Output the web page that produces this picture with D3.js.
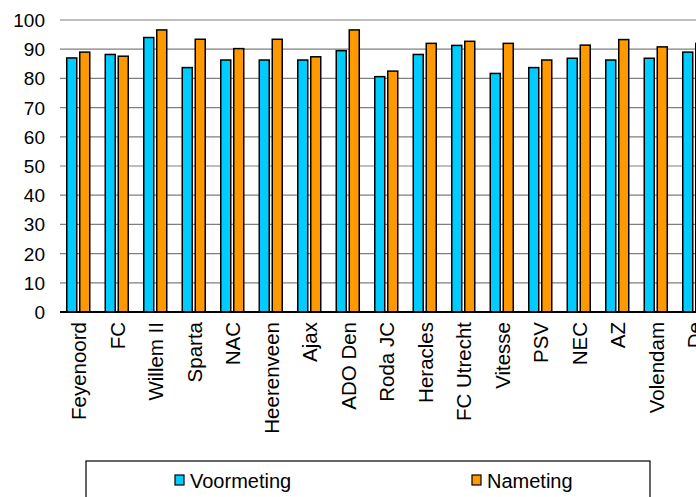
<!DOCTYPE html>
<html>
<head>
<meta charset="utf-8">
<script src="https://cdn.jsdelivr.net/npm/d3@7"></script>
<style>
body { margin: 0; background: #fff; }
text { font-family: "Liberation Sans", Arial, sans-serif; fill: #000; }
</style>
</head>
<body>
<script>
const width = 696
const height = 497

const clubs = ["Feyenoord", "FC", "Willem II", "Sparta", "NAC", "Heerenveen", "Ajax", "ADO Den",
         "Roda JC", "Heracles", "FC Utrecht", "Vitesse", "PSV", "NEC", "AZ", "Volendam", "De"]
const voormeting = [87.0, 88.2, 94.0, 83.7, 86.3, 86.3, 86.3, 89.5, 80.6, 88.2, 91.3, 81.7, 83.7, 86.9, 86.3, 86.9, 89.0]
const nameting = [89.0, 87.6, 96.6, 93.4, 90.2, 93.4, 87.4, 96.6, 82.5, 92.0, 92.7, 92.0, 86.3, 91.4, 93.3, 90.8, 92.0]
const series = ["Voormeting", "Nameting"]
const colors = ["#00ccff", "#ff9900"]
const yTicks = [0, 10, 20, 30, 40, 50, 60, 70, 80, 90, 100]

const plotLeft = 60
const plotTop = 20
const plotBottom = 312
const bandW = 38.5

const svg = d3.select("body")
    .append("svg")
    .attr("width", width)
    .attr("height", height)

const x = d3.scaleBand()
    .domain(clubs)
    .range([plotLeft, plotLeft + bandW * clubs.length])

const y = d3.scaleLinear()
    .domain([0, 100])
    .range([plotBottom, plotTop])

// gridlines
svg.append("g")
    .selectAll("line")
    .data(yTicks.slice(1))
    .enter()
    .append("line")
    .attr("x1", plotLeft)
    .attr("x2", width)
    .attr("y1", function(d) { return y(d); })
    .attr("y2", function(d) { return y(d); })
    .attr("stroke", "#7f7f7f")
    .attr("stroke-width", 1.2)

// y labels
svg.append("g")
    .selectAll("text")
    .data(yTicks)
    .enter()
    .append("text")
    .attr("x", 45)
    .attr("y", function(d) { return y(d) + 7; })
    .attr("text-anchor", "end")
    .attr("font-size", 19)
    .text(function(d) { return d; })

const barW = 10
const offsets = [-12.5, 0.5]
const vals = [voormeting, nameting]

series.forEach(function(s, k) {
    svg.append("g")
        .selectAll("rect")
        .data(clubs)
        .enter()
        .append("rect")
        .attr("x", function(d) { return x(d) + x.bandwidth() / 2 + offsets[k]; })
        .attr("y", function(d, i) { return y(vals[k][i]); })
        .attr("width", barW)
        .attr("height", function(d, i) { return plotBottom - y(vals[k][i]); })
        .attr("fill", colors[k])
        .attr("stroke", "#000")
        .attr("stroke-width", 1.5)
})

// baseline
svg.append("line")
    .attr("x1", plotLeft)
    .attr("x2", width)
    .attr("y1", plotBottom)
    .attr("y2", plotBottom)
    .attr("stroke", "#000")
    .attr("stroke-width", 2)

// x labels
svg.append("g")
    .selectAll("text")
    .data(clubs)
    .enter()
    .append("text")
    .attr("transform", function(d) {
        return "translate(" + (x(d) + x.bandwidth() / 2 + 7) + "," + 322 + ") rotate(-90)";
    })
    .attr("text-anchor", "end")
    .attr("font-size", 20.5)
    .text(function(d) { return d; })

// legend
svg.append("rect")
    .attr("x", 86)
    .attr("y", 461)
    .attr("width", 564)
    .attr("height", 50)
    .attr("fill", "#fff")
    .attr("stroke", "#000")
    .attr("stroke-width", 1.2)

const legendX = [175, 472]
series.forEach(function(s, k) {
    svg.append("rect")
        .attr("x", legendX[k])
        .attr("y", 475)
        .attr("width", 9)
        .attr("height", 10)
        .attr("fill", colors[k])
        .attr("stroke", "#000")
        .attr("stroke-width", 1.2)
    svg.append("text")
        .attr("x", legendX[k] + 15)
        .attr("y", 488)
        .attr("font-size", 20)
        .text(s)
})
</script>
</body>
</html>
